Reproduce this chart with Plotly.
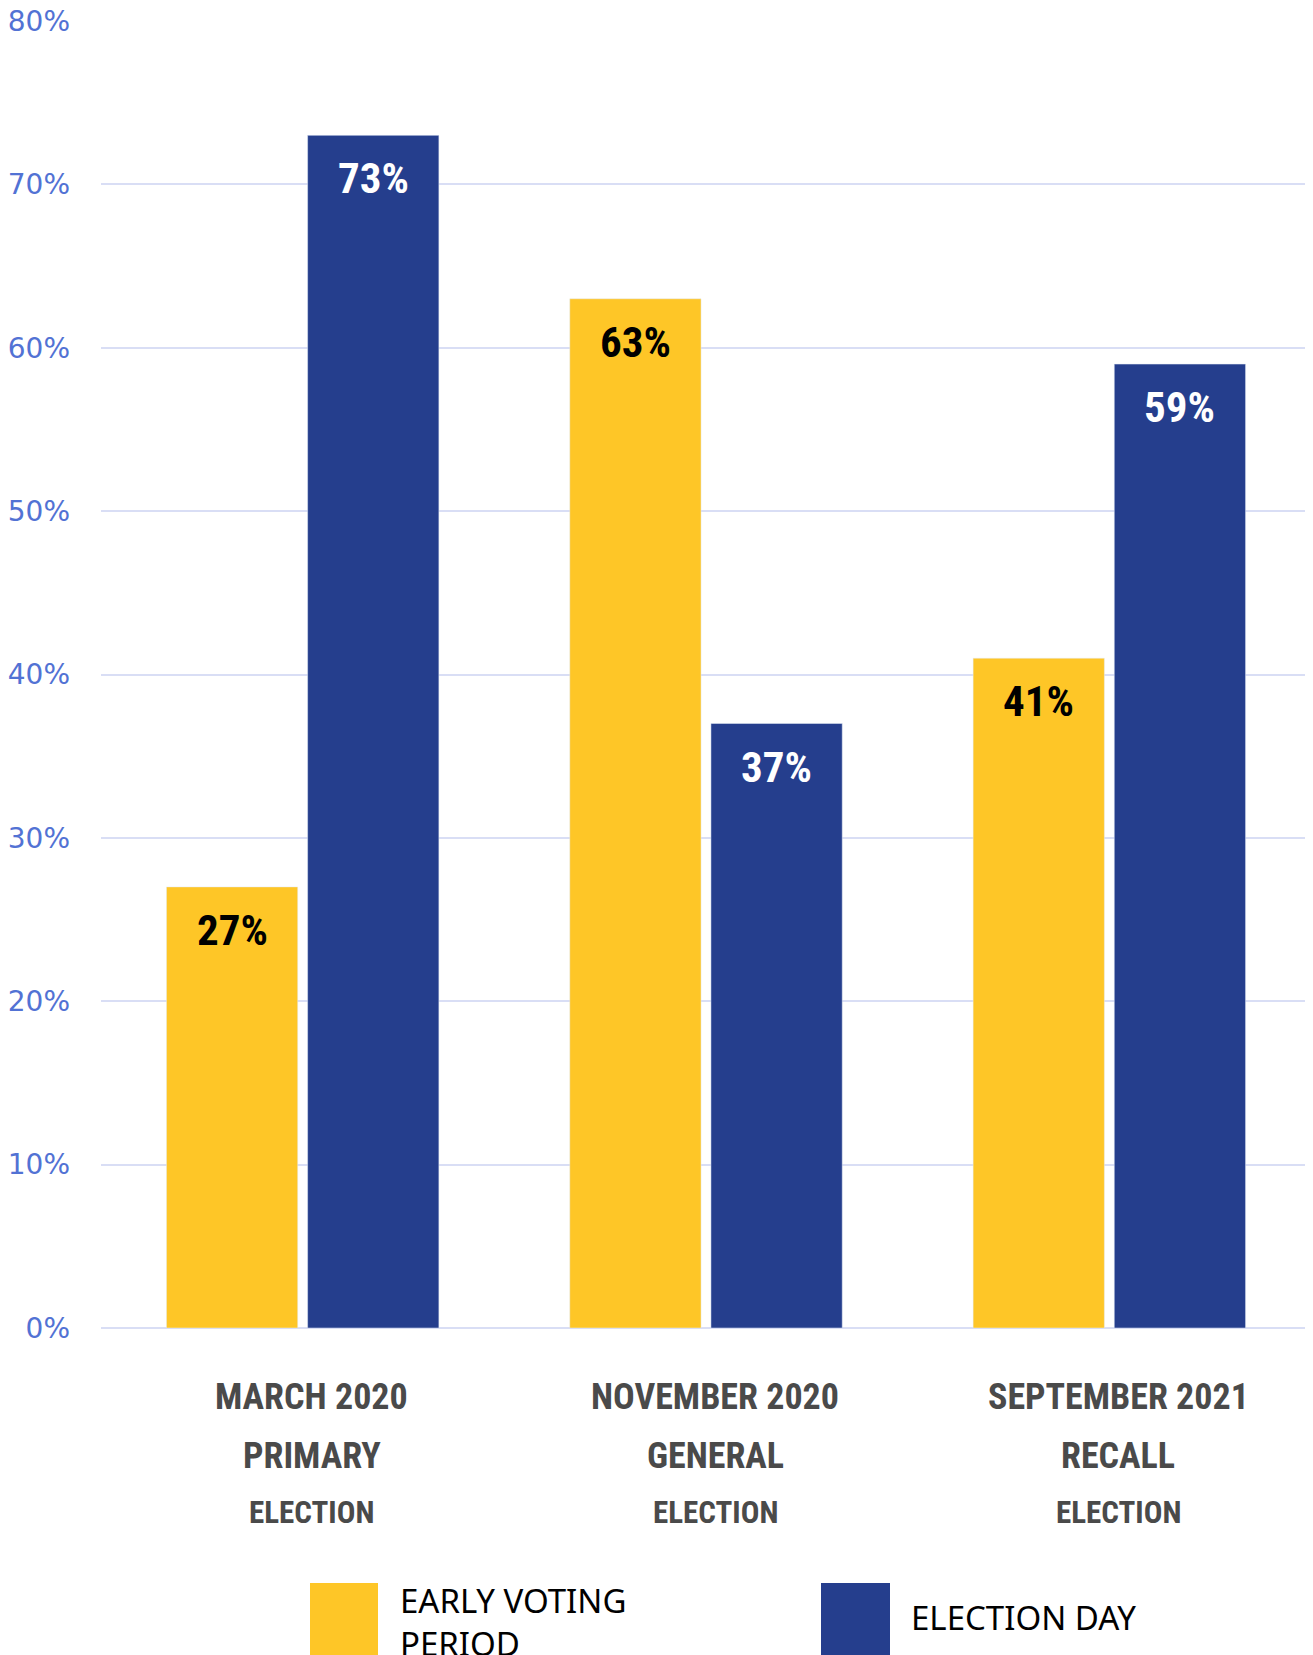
import plotly.graph_objects as go

categories = ["March 2020 Primary Election", "November 2020 General Election", "September 2021 Recall Election"]
category_lines = [
    ["MARCH 2020", "PRIMARY", "ELECTION"],
    ["NOVEMBER 2020", "GENERAL", "ELECTION"],
    ["SEPTEMBER 2021", "RECALL", "ELECTION"],
]
early_voting = [27, 63, 41]
election_day = [73, 37, 59]
series_names = ["EARLY VOTING<br>PERIOD", "ELECTION DAY"]

YELLOW = "#FEC627"
BLUE = "#253E8D"
OFF = 8  # default body margin of the html page
W, H = 1313 - OFF, 1655 - OFF
ML, MR, MT, MB = 101 - OFF, 2, 21 - OFF, 1655 - 1328
PW, PH = W - ML - MR, H - MT - MB

def px_x(p):
    return (p - OFF - ML) / PW

def px_y(p):
    return (H - MB - (p - OFF)) / PH

fig = go.Figure()
fig.add_trace(go.Bar(x=categories, y=early_voting, marker_color=YELLOW, name="Early", showlegend=False))
fig.add_trace(go.Bar(x=categories, y=election_day, marker_color=BLUE, name="Day", showlegend=False))

label_font = ("Noto Sans ExtraCondensed, Noto Sans Condensed, Roboto Condensed, Open Sans Condensed, "
              "Liberation Sans Narrow, DejaVu Sans Condensed, sans-serif")
annotations = []
for cat, e, d in zip(categories, early_voting, election_day):
    annotations.append(dict(x=cat, y=e, xref="x", yref="y", text=f"<b>{e}%</b>", showarrow=False,
                            xshift=-70.5, yshift=-43, yanchor="middle",
                            font=dict(family=label_font, size=43, color="#000000")))
    annotations.append(dict(x=cat, y=d, xref="x", yref="y", text=f"<b>{d}%</b>", showarrow=False,
                            xshift=70.5, yshift=-43, yanchor="middle",
                            font=dict(family=label_font, size=43, color="#FFFFFF")))

shifts = [-69, -128, -184]
sizes = [36, 36, 31]
for cat, lines in zip(categories, category_lines):
    for line, s, fs in zip(lines, shifts, sizes):
        annotations.append(dict(x=cat, y=0, xref="x", yref="y", text=f"<b>{line}</b>", showarrow=False,
                                yshift=s, xshift=9, yanchor="middle",
                                font=dict(family=label_font, size=fs, color="#4A4A4A")))

# legend (manual)
legend_font = dict(family="Noto Sans, DejaVu Sans, sans-serif", size=33, color="#000000")
shapes = [
    dict(type="rect", xref="paper", yref="paper", x0=px_x(310), x1=px_x(378), y0=px_y(1660), y1=px_y(1583),
         fillcolor=YELLOW, line=dict(width=0)),
    dict(type="rect", xref="paper", yref="paper", x0=px_x(821), x1=px_x(890), y0=px_y(1660), y1=px_y(1583),
         fillcolor=BLUE, line=dict(width=0)),
]
annotations.append(dict(x=px_x(398), y=px_y(1576), xref="paper", yref="paper", text=series_names[0],
                        showarrow=False, xanchor="left", yanchor="top", align="left", font=legend_font))
annotations.append(dict(x=px_x(909), y=px_y(1617), xref="paper", yref="paper", text=series_names[1],
                        showarrow=False, xanchor="left", yanchor="middle", align="left", font=legend_font))

fig.update_layout(
    width=W, height=H,
    margin=dict(l=ML, r=MR, t=MT, b=MB, autoexpand=False),
    paper_bgcolor="white", plot_bgcolor="white",
    barmode="group", bargap=0.30, bargroupgap=0.07,
    annotations=annotations, shapes=shapes,
    xaxis=dict(showticklabels=False, showgrid=False, zeroline=False, showline=False, automargin=False),
    yaxis=dict(range=[0, 80], dtick=10, ticksuffix="%", showgrid=True, gridcolor="#D9DEF5", gridwidth=1.5,
               zeroline=True, zerolinecolor="#D9DEF5", zerolinewidth=1.5, showline=False,
               ticklabelstandoff=30, ticklabeloverflow="allow", automargin=False,
               tickfont=dict(family="DejaVu Sans, Verdana, sans-serif", size=28, color="#5272D4")),
)
fig.write_html("out.html")
